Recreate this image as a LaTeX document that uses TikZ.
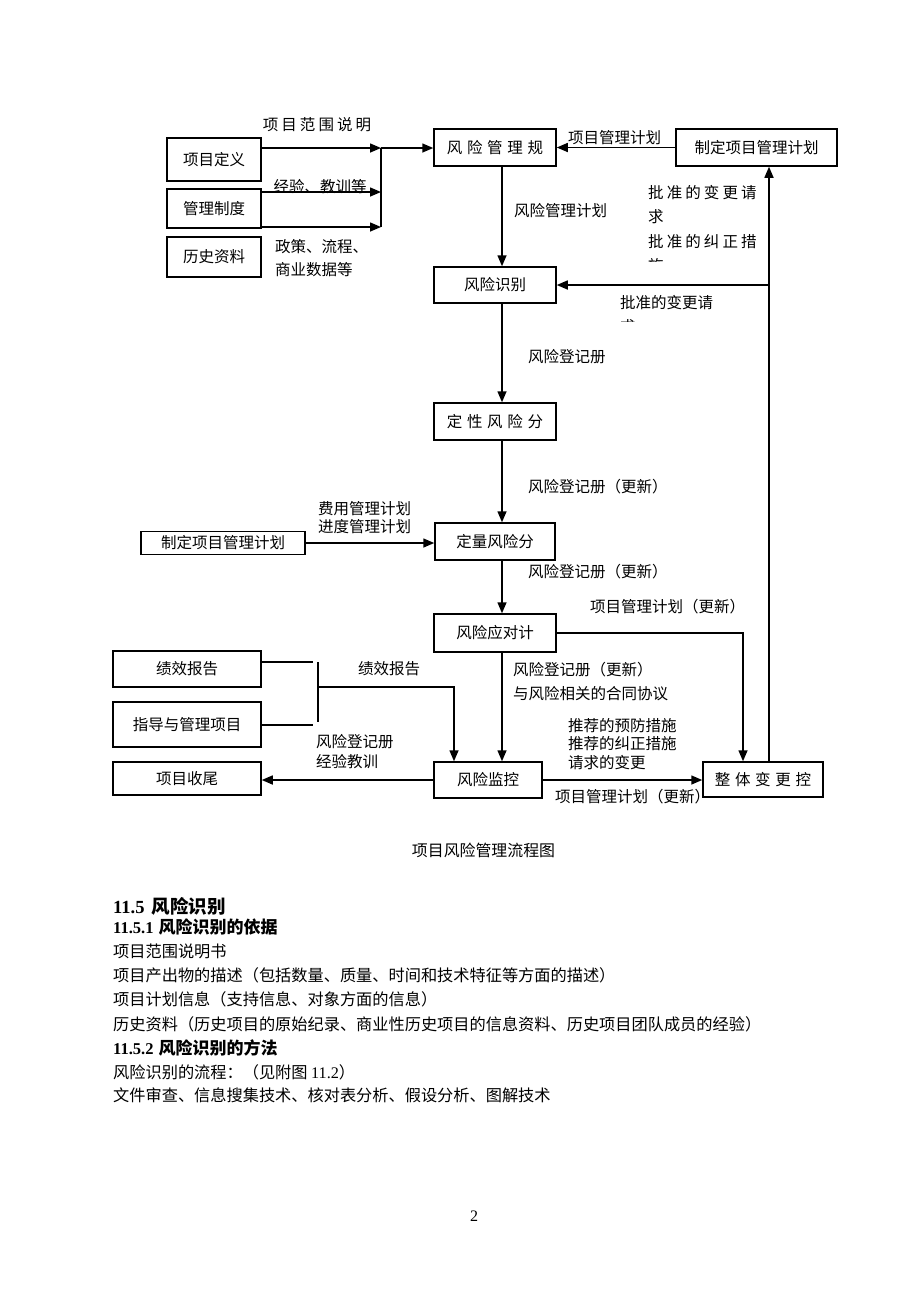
\documentclass[tikz,border=0pt]{standalone}
\usepackage{fontspec}
\setmainfont{Liberation Serif}
\newfontfamily\cjk{Noto Sans CJK SC}
\newfontfamily\cjka[LetterSpace=20]{Noto Sans CJK SC}
\newfontfamily\cjkb[LetterSpace=30]{Noto Sans CJK SC}
\usetikzlibrary{arrows.meta}

\tikzset{
  caja/.style={draw, line width=1.5pt, inner sep=0pt, font=\cjk\fontsize{15.5}{18}\selectfont},
  flecha/.style={line width=1.5pt, -{Triangle[length=11pt,width=9pt]}},
  linea/.style={line width=1.5pt},
  etiqueta/.style={inner sep=0pt, font=\cjk\fontsize{15.5}{18}\selectfont},
  texto/.style={inner sep=0pt, anchor=north west, font=\cjk\fontsize{16.2}{20}\selectfont},
}

\begin{document}
\begin{tikzpicture}[x=1pt, y=-1pt]
  \useasboundingbox (0,0) rectangle (920,1302);

  % Entradas
  \node[caja, minimum width=94pt, minimum height=43pt] (def) at (214,159.5) {项目定义};
  \node[caja, minimum width=94pt, minimum height=39pt] (sis) at (214,208.5) {管理制度};
  \node[caja, minimum width=94pt, minimum height=40pt] (his) at (214,257) {历史资料};

  % Cajas principales
  \node[caja, minimum width=122pt, minimum height=37pt, font=\cjkb\fontsize{15.5}{18}\selectfont] (plan) at (495,147.5) {风险管理规};
  \node[caja, minimum width=161pt, minimum height=37pt] (pmp) at (756.5,147.5) {制定项目管理计划};
  \node[caja, minimum width=122pt, minimum height=36pt] (ident) at (495,285) {风险识别};
  \node[caja, minimum width=122pt, minimum height=37pt, font=\cjkb\fontsize{15.5}{18}\selectfont] (cual) at (495,421.5) {定性风险分};
  \node[caja, minimum width=120pt, minimum height=37pt] (cuan) at (495,541.5) {定量风险分};
  \node[caja, minimum width=164pt, minimum height=23pt] (pmpb) at (223,543) {制定项目管理计划};
  \node[caja, minimum width=122pt, minimum height=38pt] (resp) at (495,633) {风险应对计};
  \node[caja, minimum width=108pt, minimum height=36pt] (mon) at (488,780) {风险监控};
  \node[caja, minimum width=120pt, minimum height=35pt, font=\cjkb\fontsize{15.5}{18}\selectfont] (ctrl) at (763,779.5) {整体变更控};

  % Cajas de la izquierda
  \node[caja, minimum width=148pt, minimum height=36pt] (perf) at (187,669) {绩效报告};
  \node[caja, minimum width=148pt, minimum height=45pt] (dir) at (187,724.5) {指导与管理项目};
  \node[caja, minimum width=148pt, minimum height=33pt] (cierre) at (187,778.5) {项目收尾};

  % Puntos de union
  \coordinate (m1) at (381,148);
  \coordinate (m2) at (381,192);
  \coordinate (m3) at (381,227);
  \coordinate (col) at (502,0);
  \coordinate (der) at (769,0);
  \coordinate (izq) at (743,0);
  \coordinate (g1) at (313,662);
  \coordinate (g2) at (313,725);
  \coordinate (b1) at (318,662);
  \coordinate (b2) at (318,722);
  \coordinate (g3) at (318,687);
  \coordinate (g4) at (454,687);

  % Flechas de entrada
  \draw[flecha] (m1 -| def.east) -- (m1);
  \draw[flecha] (m2 -| sis.east) -- (m2);
  \draw[flecha] (m3 -| sis.east) -- (m3);
  \draw[linea] (m1) -- (m3);
  \draw[flecha] (m1) -- (m1 -| plan.west);
  \draw[flecha] (pmp.west) -- (plan.east);

  % Columna central
  \draw[flecha] (plan.south -| col) -- (ident.north -| col);
  \draw[flecha] (ident.south -| col) -- (cual.north -| col);
  \draw[flecha] (cual.south -| col) -- (cuan.north -| col);
  \draw[flecha] (cuan.south -| col) -- (resp.north -| col);
  \draw[flecha] (resp.south -| col) -- (mon.north -| col);
  \draw[flecha] (pmpb.east) -- (pmpb.east -| cuan.west);

  % Retorno
  \draw[flecha] (ctrl.north -| der) -- (pmp.south -| der);
  \draw[flecha] (ident.east -| der) -- (ident.east);
  \draw[flecha] (resp.east) -- (resp.east -| izq) -- (ctrl.north -| izq);
  \draw[flecha] (mon.east) -- (mon.east -| ctrl.west);
  \draw[flecha] (mon.west) -- (mon.west -| cierre.east);

  % Informes
  \draw[linea] (g1 -| perf.east) -- (g1);
  \draw[linea] (g2 -| dir.east) -- (g2);
  \draw[linea] (b1) -- (b2);
  \draw[flecha] (g3) -- (g4) -- (mon.north -| g4);

  % Etiquetas
  \node[etiqueta, font=\cjka\fontsize{15.5}{18}\selectfont] (l1) at (317,125) {项目范围说明};
  \node[etiqueta] (l2) at (320,187) {经验、教训等};
  \node[etiqueta, anchor=north west, align=left, font=\cjk\fontsize{15.5}{23}\selectfont] (l3) at (275,239) {政策、流程、\\商业数据等};
  \node[etiqueta] (l4) at (614.5,138) {项目管理计划};
  \node[etiqueta, anchor=west] (l5) at (514,211) {风险管理计划};
  \begin{scope}
    \clip (640,170) rectangle (765,261);
    \node[etiqueta, anchor=north west, align=left, font=\cjka\fontsize{15.5}{24.5}\selectfont] (l6) at (648,185) {批准的变更请\\求\\批准的纠正措\\施};
  \end{scope}
  \begin{scope}
    \clip (610,290) rectangle (760,321);
    \node[etiqueta, anchor=north west, align=left, font=\cjk\fontsize{15.5}{24.5}\selectfont] (l7) at (620,295) {批准的变更请\\求};
  \end{scope}
  \node[etiqueta, anchor=west] (l8) at (528,357) {风险登记册};
  \node[etiqueta, anchor=west] (l9) at (528,487) {风险登记册（更新）};
  \node[etiqueta, anchor=north west, align=left, font=\cjk\fontsize{15.5}{18}\selectfont] (l10) at (318,501) {费用管理计划\\进度管理计划};
  \node[etiqueta, anchor=west] (l11) at (528,572) {风险登记册（更新）};
  \node[etiqueta, anchor=west] (l12) at (590,607) {项目管理计划（更新）};
  \node[etiqueta, anchor=north west, align=left, font=\cjk\fontsize{15.5}{24}\selectfont] (l13) at (513,662) {风险登记册（更新）\\与风险相关的合同协议};
  \node[etiqueta, anchor=west] (l14) at (358,669) {绩效报告};
  \node[etiqueta, anchor=north west, align=left, font=\cjk\fontsize{15.5}{20}\selectfont] (l15) at (316,734) {风险登记册\\经验教训};
  \node[etiqueta, anchor=north west, align=left, font=\cjk\fontsize{15.5}{18.5}\selectfont] (l16) at (568,718) {推荐的预防措施\\推荐的纠正措施\\请求的变更};
  \node[etiqueta, anchor=west] (l17) at (555,797) {项目管理计划（更新）};

  % Titulo
  \node[etiqueta, font=\cjk\fontsize{15.9}{18}\selectfont] (tit) at (483.5,850) {项目风险管理流程图};

  % Texto
  \node[texto, font=\fontsize{18.5}{22}\selectfont\bfseries] (h1) at (113,897) {11.5\hspace{7pt}{\cjk 风险识别}};
  \node[texto, font=\fontsize{16.5}{20}\selectfont\bfseries] (h2) at (113,919) {11.5.1\hspace{5pt}{\cjk\fontsize{17}{20}\selectfont 风险识别的依据}};
  \node[texto] (t1) at (113,944) {项目范围说明书};
  \node[texto] (t2) at (113,967) {项目产出物的描述（包括数量、质量、时间和技术特征等方面的描述）};
  \node[texto] (t3) at (113,991) {项目计划信息（支持信息、对象方面的信息）};
  \node[texto] (t4) at (113,1016) {历史资料（历史项目的原始纪录、商业性历史项目的信息资料、历史项目团队成员的经验）};
  \node[texto, font=\fontsize{16.5}{20}\selectfont\bfseries] (h3) at (113,1039) {11.5.2\hspace{5pt}{\cjk\fontsize{17}{20}\selectfont 风险识别的方法}};
  \node[texto] (t5) at (113,1064) {风险识别的流程：（见附图 {\rmfamily 11.2}）};
  \node[texto] (t6) at (113,1088) {文件审查、信息搜集技术、核对表分析、假设分析、图解技术};
  \node[inner sep=0pt, font=\fontsize{16}{18}\selectfont] (pag) at (474,1216) {2};
\end{tikzpicture}
\end{document}
